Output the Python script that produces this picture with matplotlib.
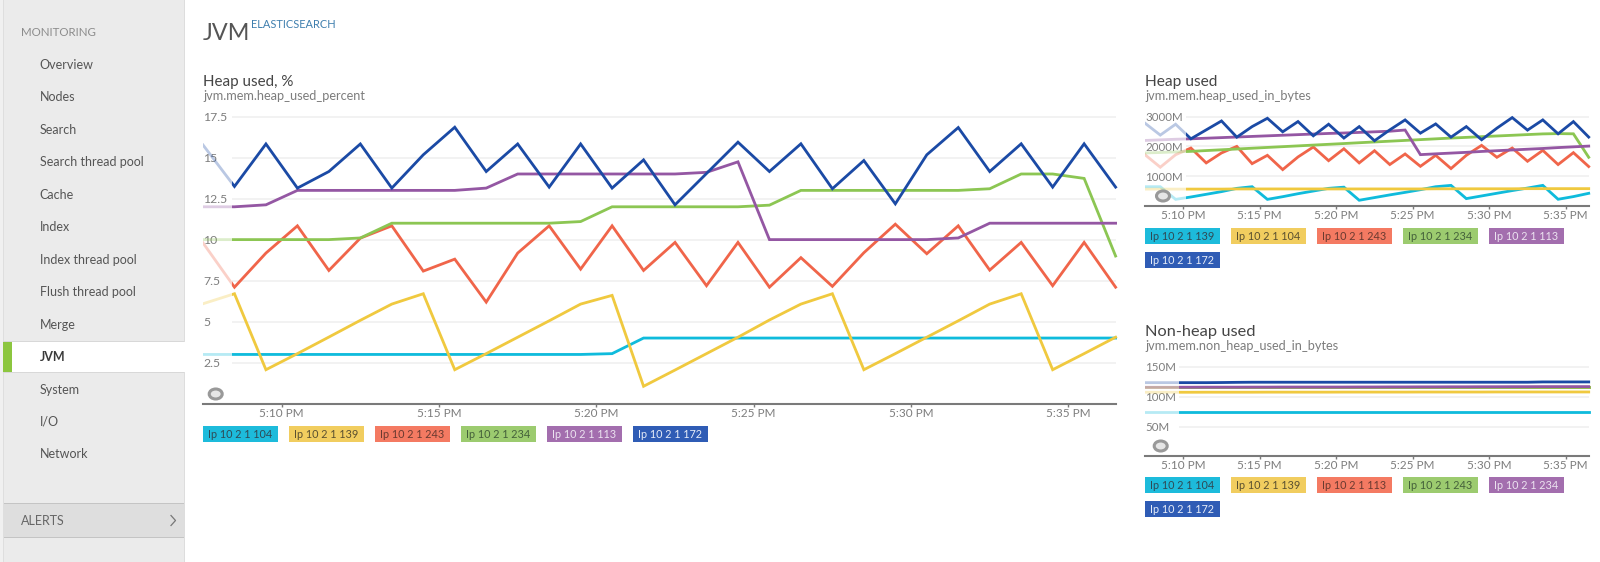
import matplotlib
matplotlib.use("Agg")
import matplotlib.pyplot as plt
from matplotlib.patches import Rectangle, Ellipse

plt.rcParams['font.family'] = ['Lato', 'DejaVu Sans']

W, H = 1600, 562

minutes = [7.5 + i for i in range(30)]
tick_minutes = [10, 15, 20, 25, 30, 35]
tick_labels = ['5:10 PM', '5:15 PM', '5:20 PM', '5:25 PM', '5:30 PM', '5:35 PM']

# Heap used, %
pct_172 = [15.77, 13.24, 15.83, 13.14, 14.15, 15.83, 13.14, 15.17, 16.85, 14.15, 15.83, 13.2, 15.83, 13.14, 14.86,
           12.12, 14.03, 15.94, 14.15, 15.84, 13.1, 14.82, 12.18, 15.17, 16.83, 14.15, 15.84, 13.2, 15.84, 13.2]
pct_113 = [12, 12, 12.12, 13, 13, 13, 13, 13, 13, 13.14, 14, 14, 14, 14, 14,
           14, 14.1, 14.74, 10, 10, 10, 10, 10, 10, 10.1, 11, 11, 11, 11, 11]
pct_234 = [10, 10, 10, 10, 10, 10.1, 11, 11, 11, 11, 11, 11, 11.1, 12, 12,
           12, 12, 12, 12.1, 13, 13, 13, 13, 13, 13, 13.1, 14, 14, 13.73, 9.0]
pct_243 = [9.8, 7.1, 9.18, 10.84, 8.12, 10.09, 10.84, 8.08, 8.81, 6.19, 9.18, 10.84, 8.2, 10.84, 8.12,
           9.83, 7.19, 9.83, 7.1, 8.9, 7.15, 9.2, 10.94, 9.14, 10.84, 8.14, 9.83, 7.19, 9.83, 7.1]
pct_139 = [6.09, 6.7, 2.07, 3.05, 4.06, 5.08, 6.07, 6.7, 2.07, 3.05, 4.05, 5.05, 6.07, 6.6, 1.06,
           2.05, 3.05, 4.05, 5.1, 6.07, 6.7, 2.07, 3.05, 4.05, 5.05, 6.07, 6.7, 2.07, 3.05, 4.05]
pct_104 = [3, 3, 3, 3, 3, 3, 3, 3, 3, 3, 3, 3, 3, 3.05, 4,
           4, 4, 4, 4, 4, 4, 4, 4, 4, 4, 4, 4, 4, 4, 4]

# Heap used, MB
heap_172 = [2780, 2380, 2745, 2255, 2555, 2855, 2310, 2665, 2945, 2490, 2835, 2355, 2745, 2280, 2665,
            2190, 2555, 2890, 2445, 2755, 2310, 2665, 2223, 2613, 2968, 2547, 2890, 2423, 2833, 2313]
heap_113 = [2200, 2220, 2240, 2255, 2275, 2295, 2315, 2335, 2355, 2375, 2395, 2415, 2435, 2450, 2470,
            2490, 2510, 2550, 1723, 1750, 1775, 1800, 1830, 1855, 1880, 1905, 1930, 1960, 1985, 2010]
heap_234 = [1780, 1795, 1815, 1833, 1860, 1886, 1912, 1938, 1965, 1991, 2017, 2044, 2070, 2096, 2123,
            2149, 2175, 2201, 2228, 2254, 2280, 2303, 2327, 2350, 2373, 2397, 2420, 2430, 2423, 1634]
heap_243 = [1720, 1300, 1720, 1945, 1445, 1780, 2000, 1420, 1700, 1220, 1645, 1980, 1520, 1920, 1445,
            1855, 1390, 1745, 1330, 1700, 1255, 1700, 2035, 1633, 1945, 1500, 1867, 1390, 1790, 1323]
heap_104 = [565, 565, 565, 565, 565, 565, 570, 570, 570, 570, 570, 570, 570, 570, 570,
            570, 570, 570, 570, 575, 575, 575, 575, 575, 575, 580, 580, 580, 580, 580]
heap_139 = [645, 645, 220, 300, 390, 480, 590, 645, 220, 310, 410, 500, 590, 630, 190,
            280, 370, 455, 545, 645, 690, 245, 335, 425, 515, 600, 690, 223, 313, 423]

# Non-heap used, MB
non_172 = [123.3, 123.3, 123.3, 123.3, 123.3, 123.5, 123.8, 124, 124, 124, 124, 124, 124, 124, 124,
           124, 124, 124, 124, 124, 124, 124, 124, 124, 124, 124, 124.5, 124.5, 124.5, 124.5]
non_234 = [115.7, 115.7, 115.7, 115.7, 115.8, 115.8, 115.8, 115.9, 115.9, 116, 116, 116, 116, 116, 116.1,
           116.1, 116.2, 116.2, 116.3, 116.3, 116.4, 116.4, 116.5, 116.5, 116.6, 116.6, 116.7, 116.7, 116.7, 116.7]
non_243 = [116] * 30
non_113 = [116] * 30
non_139 = [107.3, 107.3, 107.3, 107.3, 107.4, 107.4, 107.4, 107.4, 107.5, 107.5, 107.5, 107.5, 107.5, 107.6, 107.6,
           107.6, 107.6, 107.6, 107.7, 107.7, 107.7, 107.7, 107.7, 107.8, 107.8, 107.8, 107.8, 107.8, 107.8, 107.8]
non_104 = [75] * 30

CYAN, YELLOW, RED, GREEN, PURPLE, BLUE = '#0fbbdc', '#f0c93f', '#f0654a', '#8cc653', '#9457a3', '#1b4aa5'
line_colors = [CYAN, YELLOW, RED, GREEN, PURPLE, BLUE]
legend_fill = ['#1dbbdb', '#f1cd5f', '#f47a62', '#9ccb6f', '#a36eae', '#2f5cb5']
legend_text = ['#2f4a55', '#5a5030', '#6a3a30', '#44603a', '#ece3f0', '#e6ecf8']

main_names = ['Ip 10 2 1 104', 'Ip 10 2 1 139', 'Ip 10 2 1 243', 'Ip 10 2 1 234', 'Ip 10 2 1 113', 'Ip 10 2 1 172']
heap_names = ['Ip 10 2 1 139', 'Ip 10 2 1 104', 'Ip 10 2 1 243', 'Ip 10 2 1 234', 'Ip 10 2 1 113', 'Ip 10 2 1 172']
non_names = ['Ip 10 2 1 104', 'Ip 10 2 1 139', 'Ip 10 2 1 113', 'Ip 10 2 1 243', 'Ip 10 2 1 234', 'Ip 10 2 1 172']

fig = plt.figure(figsize=(W / 100, H / 100), dpi=100, facecolor='white')


def px_axes(x0, y0, x1, y1, **kw):
    return fig.add_axes([x0 / W, 1 - y1 / H, (x1 - x0) / W, (y1 - y0) / H], **kw)


def chart(box, ylim, yticks, ylabels, series, mask, lw=2.8, yfont=8.3, xfont=8.5, tpad=1.0):
    ax = px_axes(*box)
    ax.set_xlim(minutes[0], minutes[-1])
    ax.set_ylim(*ylim)
    ax.patch.set_alpha(0)
    for s in ('top', 'left', 'right'):
        ax.spines[s].set_visible(False)
    ax.spines['bottom'].set_color('#7a7a7a')
    ax.spines['bottom'].set_linewidth(1.5)
    ax.hlines(yticks, mask, minutes[-1], color='#f0f0f0', lw=1.2, zorder=1)
    ax.set_yticks(yticks)
    ax.set_yticklabels(ylabels, ha='left', fontsize=yfont, color='#7d7d7d')
    ax.tick_params(axis='y', length=0, pad=0)
    ax.set_xticks(tick_minutes)
    ax.set_xticklabels(tick_labels, fontsize=xfont, color='#7d7d7d')
    ax.tick_params(axis='x', length=2, width=1, color='#7a7a7a', pad=tpad)
    for vals, col in series:
        faded, = ax.plot(minutes, vals, color=col, lw=lw * 0.72, alpha=0.3, zorder=3,
                         solid_joinstyle='miter')
        solid, = ax.plot(minutes, vals, color=col, lw=lw * 0.72, zorder=4,
                         solid_joinstyle='miter')
        t = ax.get_xaxis_transform()
        faded.set_clip_path(Rectangle((minutes[0], 0), mask - minutes[0], 1, transform=t))
        solid.set_clip_path(Rectangle((mask, 0), 40, 1, transform=t))
    return ax


chart((203, 110, 1115.6, 404), (-0.02, 17.9),
      [2.5, 5, 7.5, 10, 12.5, 15, 17.5], ['2.5', '5', '7.5', '10', '12.5', '15', '17.5'],
      list(zip([pct_104, pct_139, pct_243, pct_234, pct_113, pct_172], line_colors)), 8.42, yfont=8.8)

chart((1145, 110, 1588.7, 206), (-3, 3223),
      [1000, 2000, 3000], ['1000M', '2000M', '3000M'],
      list(zip([heap_139, heap_104, heap_243, heap_234, heap_113, heap_172], line_colors)), 10.18)

chart((1145, 360, 1588.7, 456), (1.2, 161),
      [50, 100, 150], ['50M', '100M', '150M'],
      list(zip([non_104, non_139, non_113, non_243, non_234, non_172], line_colors)), 9.74)

# Page furniture, in pixel coordinates
ui = fig.add_axes([0, 0, 1, 1], zorder=10)
ui.set_xlim(0, W)
ui.set_ylim(H, 0)
ui.axis('off')
ui.patch.set_alpha(0)


def box(x0, y0, x1, y1, color, **kw):
    ui.add_patch(Rectangle((x0, y0), x1 - x0, y1 - y0, facecolor=color, edgecolor='none', **kw))


box(0, 0, 4, H, '#f0f0f0')
box(3, 0, 4, H, '#dedede')
box(4, 0, 184, H, '#ebebeb')
box(184, 0, 185, H, '#dddddd')
box(3, 340.5, 184, 341.7, '#d8d8d8')
box(3, 341.7, 185, 372, 'white')
box(3, 372, 184, 373, '#d8d8d8')
box(3, 341.7, 11.5, 372, '#8cc63f')
box(4, 503, 184, 537, '#dedede')
box(4, 503, 184, 504, '#c4c4c4')
box(4, 536.5, 184, 538, '#c4c4c4')

nav_items = ['Overview', 'Nodes', 'Search', 'Search thread pool', 'Cache', 'Index', 'Index thread pool',
             'Flush thread pool', 'Merge', 'JVM', 'System', 'I/O', 'Network']
nav_y = [64.8, 97.3, 129.8, 161.8, 194.8, 227.3, 259.8, 292.3, 324.8, 356.8, 389.8, 421.8, 454.3]
for name, y in zip(nav_items, nav_y):
    bold = name == 'JVM'
    ui.text(39.5, y, name, fontsize=9.0, va='center', color='#3a3a3a' if bold else '#555555',
            fontweight='bold' if bold else 'normal')
ui.text(21.3, 33, 'MONITORING', fontsize=8.3, va='center', color='#8c8c8c')
ui.text(21.3, 521, 'ALERTS', fontsize=9.0, va='center', color='#666666')
ui.plot([171, 175.5, 171], [515.5, 520.5, 525.5], color='#777777', lw=0.9)

ui.text(203, 33, 'JVM', fontsize=16.8, va='center', color='#555555')
ui.text(251, 24, 'ELASTICSEARCH', fontsize=7.9, va='center', color='#3f7fae')

titles = [(203, 82, 'Heap used, %', 96.5, 'jvm.mem.heap_used_percent', 10.9),
          (1145, 82, 'Heap used', 96.5, 'jvm.mem.heap_used_in_bytes', 11.2),
          (1145, 332, 'Non-heap used', 346.5, 'jvm.mem.non_heap_used_in_bytes', 11.8)]
for x, y, t, y2, s, size in titles:
    ui.text(x, y, t, fontsize=size, va='center', color='#454545')
    ui.text(x, y2, s, fontsize=9.2, va='center', color='#7d7d7d')

for cx, cy in [(215.7, 394), (1163, 196), (1160.7, 446)]:
    ui.add_patch(Ellipse((cx, cy), 13, 10, facecolor='#e6e6e6', edgecolor='#999999', lw=2.2))


def legend(x0, y0, names, per_row):
    for i, name in enumerate(names):
        col, row = i % per_row, i // per_row
        x = x0 + col * 86
        y = y0 + row * 24
        h = 15.5 if per_row > 5 else 16
        box(x, y, x + 74.7, y + h, legend_fill[i])
        ui.text(x + 37.3, y + h / 2 + 0.5, name, fontsize=7.8, ha='center', va='center', color=legend_text[i])


legend(203, 426, main_names, 6)
legend(1145, 227.5, heap_names, 5)
legend(1145, 477, non_names, 5)

fig.savefig('out.png', dpi=100, facecolor='white')
